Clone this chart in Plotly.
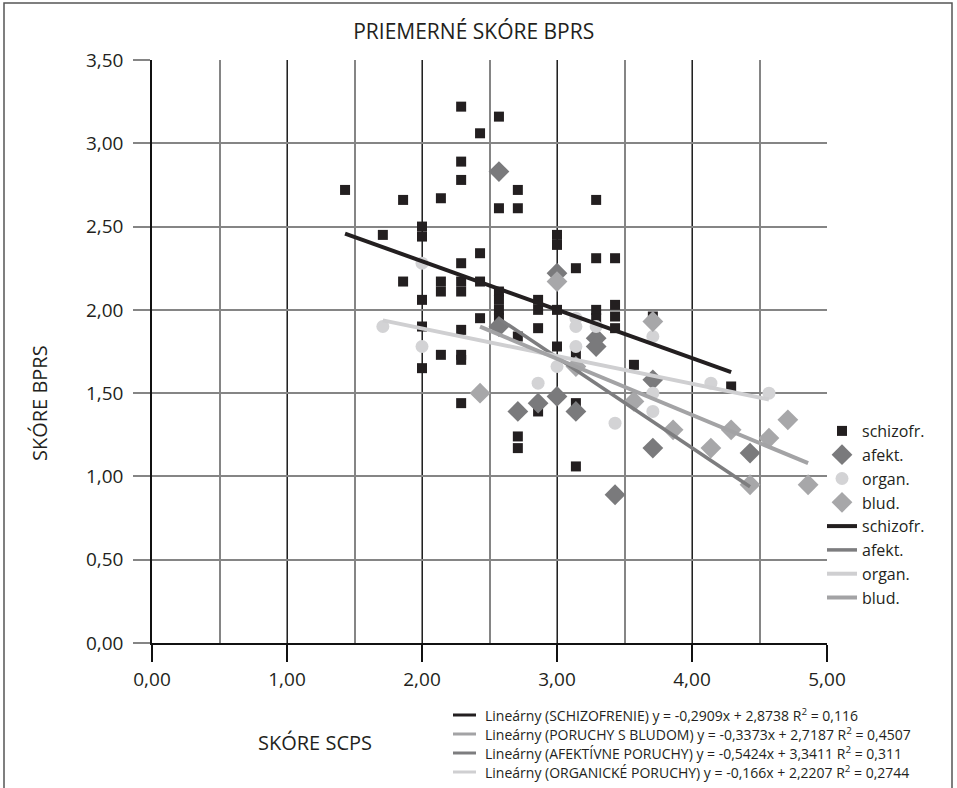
import numpy as np
import plotly.graph_objects as go

# ---- data: SCPS score (x) vs. mean BPRS score (y) per diagnostic group ----
schizo_x = [1.43, 1.71, 1.86, 1.86,
            2.00, 2.00, 2.00, 2.00, 2.00,
            2.14, 2.14, 2.14, 2.14,
            2.29, 2.29, 2.29, 2.29, 2.29, 2.29, 2.29, 2.29, 2.29, 2.29,
            2.43, 2.43, 2.43, 2.43,
            2.57, 2.57, 2.57, 2.57, 2.57, 2.57,
            2.71, 2.71, 2.71, 2.71, 2.71,
            2.86, 2.86, 2.86, 2.86,
            3.00, 3.00, 3.00, 3.00,
            3.14, 3.14, 3.14, 3.14,
            3.29, 3.29, 3.29, 3.29,
            3.43, 3.43, 3.43, 3.43,
            3.57, 3.71, 4.29]
schizo_y = [2.72, 2.45, 2.66, 2.17,
            2.50, 2.44, 2.06, 1.90, 1.65,
            2.67, 2.17, 2.11, 1.73,
            3.22, 2.89, 2.78, 2.28, 2.17, 2.11, 1.88, 1.73, 1.70, 1.44,
            3.06, 2.34, 2.17, 1.95,
            3.16, 2.61, 2.11, 2.06, 2.00, 1.95,
            2.72, 2.61, 1.84, 1.24, 1.17,
            2.06, 2.00, 1.89, 1.39,
            2.45, 2.39, 2.00, 1.78,
            2.25, 1.73, 1.44, 1.06,
            2.66, 2.31, 2.00, 1.95,
            2.31, 2.03, 1.96, 1.89,
            1.67, 1.96, 1.54]

afekt_x = [2.57, 2.57, 2.71, 2.86, 3.00, 3.00, 3.14, 3.29, 3.29, 3.43, 3.71, 3.71, 4.43]
afekt_y = [2.83, 1.90, 1.39, 1.44, 2.22, 1.48, 1.39, 1.83, 1.78, 0.89, 1.58, 1.17, 1.14]

organ_x = [1.71, 2.00, 2.00, 2.86, 3.00, 3.14, 3.14, 3.14, 3.29, 3.43, 3.71, 3.71, 3.71, 4.14, 4.57]
organ_y = [1.90, 2.28, 1.78, 1.56, 1.66, 1.95, 1.90, 1.78, 1.90, 1.32, 1.84, 1.50, 1.39, 1.56, 1.50]

blud_x = [2.43, 3.00, 3.14, 3.57, 3.71, 3.86, 4.14, 4.29, 4.43, 4.57, 4.71, 4.86]
blud_y = [1.50, 2.17, 1.66, 1.45, 1.93, 1.28, 1.17, 1.28, 0.95, 1.23, 1.34, 0.95]

# linear trend coefficients (slope, intercept) per group
trend_coef = {
    "schizo": (-0.2909, 2.8738),
    "afekt": (-0.5424, 3.3411),
    "organ": (-0.166, 2.2207),
    "blud": (-0.3373, 2.7187),
}
# equation captions, in the order they are listed under the chart
trend_labels = [
    ("schizo", "Lineárny (SCHIZOFRENIE) y = -0,2909x + 2,8738 R<sup>2</sup> = 0,116"),
    ("blud", "Lineárny (PORUCHY S BLUDOM) y = -0,3373x + 2,7187 R<sup>2</sup> = 0,4507"),
    ("afekt", "Lineárny (AFEKTÍVNE PORUCHY) y = -0,5424x + 3,3411 R<sup>2</sup> = 0,311"),
    ("organ", "Lineárny (ORGANICKÉ PORUCHY) y = -0,166x + 2,2207 R<sup>2</sup> = 0,2744"),
]

x_ticks = [0, 1, 2, 3, 4, 5]
y_ticks = [0, 0.5, 1, 1.5, 2, 2.5, 3, 3.5]

# ---- styling ----
FONT = "Open Sans"
TXT = "#231f20"
marker_col = {"schizo": "#231f20", "afekt": "#7a7a7c", "organ": "#d3d3d5", "blud": "#a7a7a9"}
line_col = {"schizo": "#231f20", "afekt": "#7d7d7f", "organ": "#cfcfd1", "blud": "#a3a3a5"}
line_w = {"schizo": 4, "afekt": 3.5, "organ": 4, "blud": 4}
short = {"schizo": "schizofr.", "afekt": "afekt.", "organ": "organ.", "blud": "blud."}

groups = {
    "schizo": (schizo_x, schizo_y, "square", 10),
    "afekt": (afekt_x, afekt_y, "diamond", 16),
    "organ": (organ_x, organ_y, "circle", 13),
    "blud": (blud_x, blud_y, "diamond", 16),
}

fig = go.Figure()

for key, (gx, gy, sym, sz) in groups.items():
    fig.add_trace(go.Scatter(
        x=gx, y=gy, mode="markers", name=short[key],
        marker=dict(symbol=sym, size=sz, color=marker_col[key], line=dict(width=0)),
    ))

for key, (gx, gy, _, _) in groups.items():
    slope, icpt = trend_coef[key]
    xs = np.array([min(gx), max(gx)])
    fig.add_trace(go.Scatter(
        x=xs, y=slope * xs + icpt, mode="lines", name=short[key],
        line=dict(color=line_col[key], width=line_w[key]),
    ))

# equation key below the chart: a short line sample followed by its caption
PLOT_L, PLOT_W, PLOT_B, PLOT_H = 152, 675, 643, 583


def px_x(px):
    return (px - PLOT_L) / PLOT_W


def px_y(py):
    return (PLOT_B - py) / PLOT_H


annotations = [
    dict(text="SKÓRE BPRS", xref="paper", yref="paper", x=px_x(40), y=px_y(403),
         textangle=-90, showarrow=False, xanchor="center", yanchor="middle",
         font=dict(family=FONT, size=20, color=TXT)),
    dict(text="SKÓRE SCPS", xref="paper", yref="paper", x=px_x(315), y=px_y(742),
         showarrow=False, xanchor="center", yanchor="middle",
         font=dict(family=FONT, size=20, color=TXT)),
]
shapes = [
    dict(type="rect", xref="paper", yref="paper",
         x0=px_x(4), x1=px_x(952), y0=px_y(800), y1=px_y(3),
         line=dict(color="#555555", width=1.5), layer="below"),
]
row0, row_gap = 715, 19
for i, (key, label) in enumerate(trend_labels):
    yy = px_y(row0 + i * row_gap)
    shapes.append(dict(type="line", xref="paper", yref="paper",
                       x0=px_x(453), x1=px_x(476), y0=yy, y1=yy,
                       line=dict(color=line_col[key], width=3)))
    annotations.append(dict(text=label, xref="paper", yref="paper",
                            x=px_x(483), y=yy, showarrow=False,
                            xanchor="left", yanchor="middle",
                            font=dict(family=FONT, size=14, color=TXT)))

fig.update_layout(
    width=957, height=788,
    margin=dict(l=PLOT_L, r=957 - PLOT_L - PLOT_W, t=PLOT_B - PLOT_H, b=788 - PLOT_B),
    paper_bgcolor="white", plot_bgcolor="white",
    separators=", ",
    font=dict(family=FONT, color=TXT, size=16),
    title=dict(text="PRIEMERNÉ SKÓRE BPRS", x=0.495, xanchor="center",
               y=1 - 32 / 788, yanchor="middle",
               font=dict(family=FONT, size=21, color=TXT)),
    legend=dict(x=px_x(822), xanchor="left", y=px_y(414), yanchor="top",
                font=dict(family=FONT, size=16, color=TXT),
                bgcolor="rgba(0,0,0,0)", traceorder="normal", itemwidth=30),
    xaxis=dict(range=[0, 5], tickvals=x_ticks, tickformat=".2f",
               showgrid=True, gridcolor="#222222", gridwidth=1,
               minor=dict(dtick=0.5, showgrid=True, gridcolor="#858585", gridwidth=2),
               showline=True, linecolor="#111111", linewidth=1.5,
               ticks="outside", ticklen=17, tickcolor="#111111", tickwidth=1.5,
               ticklabelstandoff=1,
               zeroline=False, tickfont=dict(size=19, color=TXT)),
    yaxis=dict(range=[0, 3.5], tickvals=y_ticks, tickformat=".2f",
               showgrid=True, gridcolor="#858585", gridwidth=2,
               showline=True, linecolor="#111111", linewidth=1.5,
               ticks="outside", ticklen=17, tickcolor="#858585", tickwidth=1.5,
               ticklabelstandoff=6,
               zeroline=False, tickfont=dict(size=19, color=TXT)),
    showlegend=True,
    annotations=annotations,
    shapes=shapes,
)

fig.write_html("out.html")
